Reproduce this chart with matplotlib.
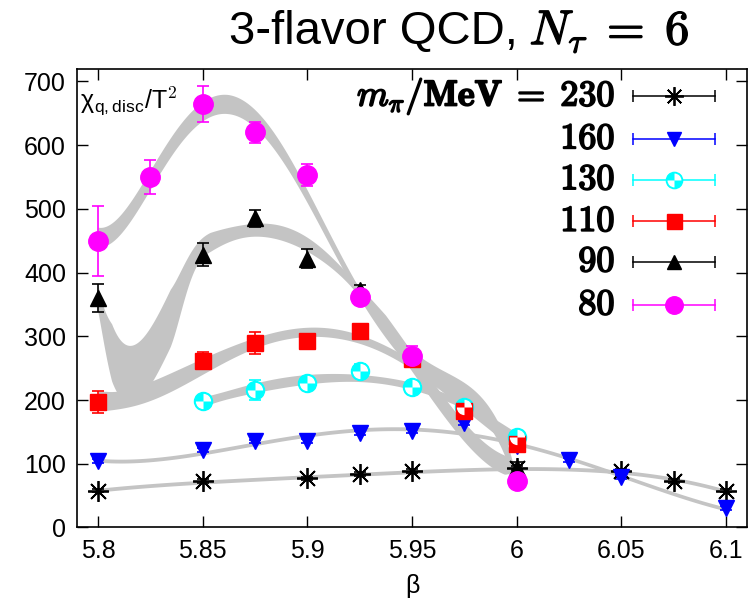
import numpy as np
import matplotlib.pyplot as plt
import matplotlib.patheffects as pe
from matplotlib.path import Path

plt.rcParams['font.family'] = ['Liberation Sans', 'DejaVu Sans']
plt.rcParams['mathtext.fontset'] = 'cm'

# chi_q,disc / T^2 vs beta, one series per pion mass (MeV)
beta230 = [5.8, 5.85, 5.9, 5.925, 5.95, 6.0, 6.05, 6.075, 6.1]
chi230 = [58, 73, 77, 84, 88, 93, 88, 73, 58]
err230 = [3, 3, 3, 3, 3, 3, 3, 3, 3]

beta160 = [5.8, 5.85, 5.875, 5.9, 5.925, 5.95, 5.975, 6.0, 6.025, 6.05, 6.1]
chi160 = [104, 122, 135, 136, 148, 152, 164, 128, 106, 79, 30]
err160 = [3, 3, 3, 3, 3, 3, 3, 3, 3, 3, 3]

beta130 = [5.85, 5.875, 5.9, 5.925, 5.95, 5.975, 6.0]
chi130 = [198, 216, 226, 246, 220, 189, 142]
err130 = [8, 16, 10, 10, 8, 8, 8]

beta110 = [5.8, 5.85, 5.875, 5.9, 5.925, 5.95, 5.975, 6.0]
chi110 = [197, 262, 289, 292, 308, 265, 182, 131]
err110 = [17, 14, 17, 10, 10, 12, 10, 10]

beta90 = [5.8, 5.85, 5.875, 5.9, 5.925, 6.0]
chi90 = [360, 428, 485, 422, 372, 94]
err90 = [22, 18, 13, 15, 8, 8]

beta80 = [5.8, 5.825, 5.85, 5.875, 5.9, 5.925, 5.95, 6.0]
chi80 = [449, 550, 665, 620, 553, 361, 269, 73]
err80 = [55, 27, 28, 17, 17, 8, 15, 6]

mass_labels = ['230', '160', '130', '110', '90', '80']

# circle split in quadrants, two of them white
quad = Path.make_compound_path(Path.wedge(0, 90), Path.wedge(180, 270))

# (beta, chi, err, colour, marker, fit degree, low-beta fit degree)
series = [
    (beta230, chi230, err230, 'black', dict(marker=(8, 2, 0), ms=15, mew=1.3), 4, None),
    (beta160, chi160, err160, 'blue', dict(marker='v', ms=11), 4, None),
    (beta130, chi130, err130, 'cyan', dict(marker='o', ms=13), 3, None),
    (beta110, chi110, err110, 'red', dict(marker='s', ms=12), 4, None),
    (beta90, chi90, err90, 'black', dict(marker='^', ms=11), 4, 5),
    (beta80, chi80, err80, 'magenta', dict(marker='o', ms=14), 5, None),
]


def polyband(b, c, e, deg, xs):
    x0 = b.mean()
    p, cov = np.polyfit(b - x0, c, deg, w=1.0 / e, cov='unscaled')
    V = np.vander(xs - x0, deg + 1)
    fit = V @ p
    sig = np.sqrt(np.einsum('ij,jk,ik->i', V, cov, V))
    return fit, sig


bold = [pe.withStroke(linewidth=1.3, foreground='black')]

fig = plt.figure(figsize=(7.5, 6.13), dpi=100)
ax = fig.add_axes([0.1027, 0.1395, 0.8933, 0.7475])

# fit bands
for b, c, e, col, mk, deg, deg_lo in series:
    b = np.array(b)
    c = np.array(c, float)
    e = np.array(e, float)
    xs = np.linspace(b.min(), b.max(), 400)
    fit, sig = polyband(b, c, e, deg, xs)
    sig = np.clip(sig, 3, 15)
    if deg_lo:
        # higher order near the lower end, blended into the smooth fit
        fit2, sig2 = polyband(b, c, e, deg_lo, xs)
        w = np.clip((xs - 5.835) / 0.02, 0, 1)
        w = w * w * (3 - 2 * w)
        fit = (1 - w) * fit2 + w * fit
        sig = (1 - w) * np.clip(sig2, 8, 45) + w * sig
    ax.fill_between(xs, fit - sig, fit + sig, color='#c4c4c4', lw=0, zorder=1)

for b, c, e, col, mk, deg, deg_lo in series:
    ax.errorbar(b, c, yerr=e, fmt='none', ecolor=col, elinewidth=1.2,
                capsize=4, capthick=1.2, zorder=3)
    ax.plot(b, c, ls='none', color=col, mec=col, zorder=4, **mk)
    if col == 'cyan':
        ax.plot(b, c, ls='none', marker=quad, ms=11, mfc='white', mec='none', zorder=5)

# legend drawn gnuplot-style
rows = [0.9406, 0.848, 0.759, 0.668, 0.580, 0.486]
for (b, c, e, col, mk, deg, deg_lo), lab, yy in zip(series, mass_labels, rows):
    if lab == '230':
        txt = r'$m_\pi\mathbf{/MeV}\;=\;\mathbf{230}$'
    else:
        txt = r'$\mathbf{%s}$' % lab
    ax.text(0.803, yy, txt, transform=ax.transAxes, ha='right', va='center',
            fontsize=26, path_effects=bold)
    ax.plot([0.830, 0.952], [yy, yy], color=col, lw=1.1, transform=ax.transAxes,
            marker='|', ms=8, mew=1.1, zorder=4, clip_on=False)
    mk2 = dict(mk)
    mk2['ms'] = mk['ms'] * 0.9
    ax.plot([0.891], [yy], ls='none', color=col, mec=col, transform=ax.transAxes,
            zorder=5, **mk2)
    if col == 'cyan':
        ax.plot([0.891], [yy], ls='none', marker=quad, ms=10, mfc='white', mec='none',
                transform=ax.transAxes, zorder=6)

ax.text(0.005, 0.93, r'χ$_{\mathregular{q,disc}}$/T$^2$', transform=ax.transAxes,
        fontsize=18, ha='left', va='center')

fig.text(0.69, 0.948, '3-flavor QCD,', fontsize=34, ha='right', va='center')
fig.text(0.706, 0.948, r'$N_\tau\;=\;6$', fontsize=35, ha='left', va='center',
         path_effects=[pe.withStroke(linewidth=1.0, foreground='black')])

ax.set_xlim(5.79, 6.11)
ax.set_ylim(0, 719)
ax.set_xticks([5.8, 5.85, 5.9, 5.95, 6.0, 6.05, 6.1])
ax.set_xticklabels(['5.8', '5.85', '5.9', '5.95', '6', '6.05', '6.1'])
ax.set_yticks(range(0, 701, 100))
ax.tick_params(direction='in', length=8, width=1, top=True, right=True, labelsize=18, pad=8)
ax.set_xlabel('β', fontsize=18, labelpad=8)
for s in ax.spines.values():
    s.set_linewidth(1.2)

fig.savefig('out.png', dpi=100)
